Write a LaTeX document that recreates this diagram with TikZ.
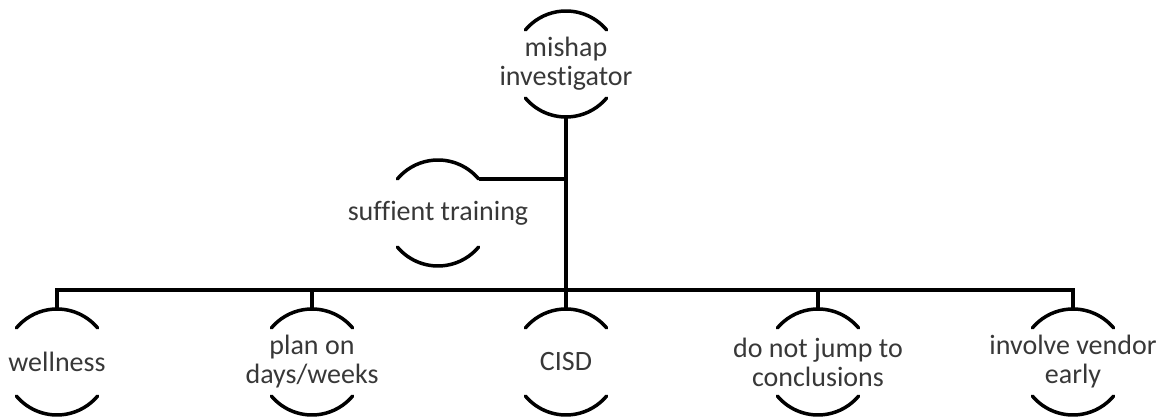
\documentclass[tikz,border=0pt]{standalone}
\usepackage{fontspec}
\setmainfont[Ligatures={NoCommon}]{Carlito}
\begin{document}
\begin{tikzpicture}[
    x=1pt,
    y=1pt,
    font=\fontsize{28}{29}\selectfont,
    idea/.style={
        align=center,
        inner sep=0pt,
        text=black!78
    },
    rim/.style={
        line width=3.5pt,
        line cap=round
    },
    link/.style={
        line width=4.5pt
    }
]
    \useasboundingbox (0,0) rectangle (1170,419);

    \node[idea] (mishap) at (566,355) {mishap\\investigator};
    \node[idea] (training) at (438,206) {suffient training};

    \node[idea] (wellness) at (57,57) {wellness};
    \node[idea] (plan) at (312,57) {plan on\\days/weeks};
    \node[idea] (cisd) at (566,57) {CISD};
    \node[idea] (jump) at (818,57) {do not jump to\\conclusions};
    \node[idea] (vendor) at (1073,57) {involve vendor\\early};

    % open circles round each idea
    \foreach \n in {mishap,training,wellness,plan,cisd,jump,vendor}{
        \draw[rim] ([shift={(40:53pt)}]\n.center)
            arc[start angle=40, end angle=140, radius=53pt];
        \draw[rim] ([shift={(220:53pt)}]\n.center)
            arc[start angle=220, end angle=320, radius=53pt];
    }

    \coordinate (hub) at (566,129);
    \coordinate (training-end) at ([shift={(40:53pt)}]training.center);

    \draw[link] ([yshift=-53pt]mishap.center) -- (hub);
    \draw[link] (training-end) -- (training-end -| mishap.center);

    \draw[link] ([yshift=53pt]wellness.center) -- (wellness.center |- hub)
        -- (vendor.center |- hub) -- ([yshift=53pt]vendor.center);
    \draw[link] (plan.center |- hub) -- ([yshift=53pt]plan.center);
    \draw[link] (hub) -- ([yshift=53pt]cisd.center);
    \draw[link] (jump.center |- hub) -- ([yshift=53pt]jump.center);
\end{tikzpicture}
\end{document}
